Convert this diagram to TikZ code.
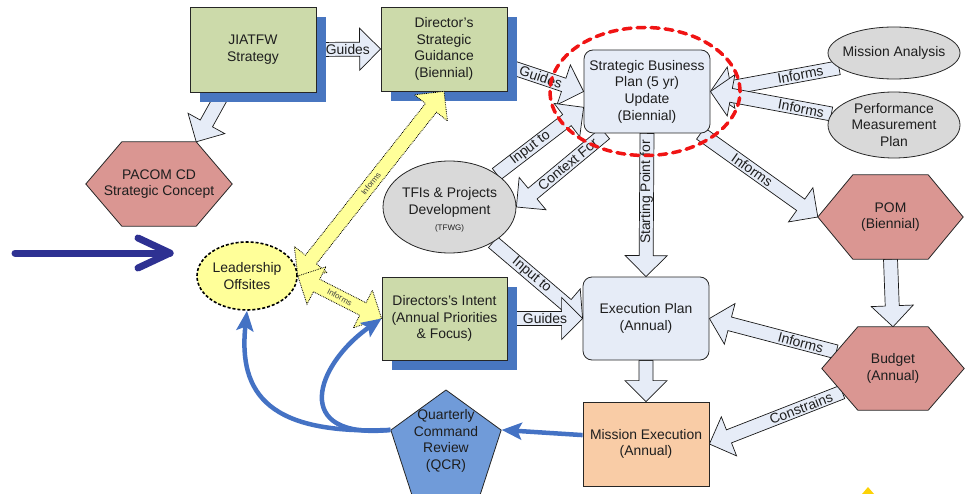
\documentclass[tikz,border=0pt]{standalone}
\usepackage{fontspec}
\setmainfont{Liberation Sans}
\usetikzlibrary{calc,shapes.geometric,shadows,arrows.meta}
\pgfdeclarelayer{arrowlayer}
\pgfdeclarelayer{hexlayer}
\pgfsetlayers{arrowlayer,hexlayer,main}
\definecolor{textc}{RGB}{30,30,30}
\definecolor{boxgreen}{RGB}{204,218,170}
\definecolor{shadowblue}{RGB}{72,118,192}
\definecolor{lightbox}{RGB}{230,236,247}
\definecolor{grayell}{RGB}{217,217,217}
\definecolor{hexred}{RGB}{218,150,146}
\definecolor{peach}{RGB}{249,204,166}
\definecolor{yellowf}{RGB}{255,255,153}
\definecolor{qcrblue}{RGB}{112,155,217}
\definecolor{lineblue}{RGB}{68,114,196}
\definecolor{navyc}{RGB}{46,49,146}
\definecolor{redd}{RGB}{240,20,20}
\newcommand\BAsw{7pt}
\newcommand\BAhw{21pt}
\newcommand\BAhl{21pt}
% single block arrow from #2 to #3
\newcommand\blockarrow[3][]{%
  \coordinate (bkC) at ($(#3)!\BAhl!(#2)$);
  \filldraw[blockarr,#1] ($(#2)!\BAsw!90:(#3)$) -- ($(bkC)!\BAsw!90:(#3)$) -- ($(bkC)!\BAhw!90:(#3)$) -- (#3)
    -- ($(bkC)!\BAhw!-90:(#3)$) -- ($(bkC)!\BAsw!-90:(#3)$) -- ($(#2)!\BAsw!-90:(#3)$) -- cycle;}
% double block arrow between #2 and #3
\newcommand\dblarrow[3][]{%
  \coordinate (bkC) at ($(#2)!\BAhl!(#3)$);
  \coordinate (bkD) at ($(#3)!\BAhl!(#2)$);
  \filldraw[#1] (#2) -- ($(bkC)!\BAhw!90:(#3)$) -- ($(bkC)!\BAsw!90:(#3)$) -- ($(bkD)!\BAsw!90:(#3)$) -- ($(bkD)!\BAhw!90:(#3)$) -- (#3)
    -- ($(bkD)!\BAhw!-90:(#3)$) -- ($(bkD)!\BAsw!-90:(#3)$) -- ($(bkC)!\BAsw!-90:(#3)$) -- ($(bkC)!\BAhw!-90:(#3)$) -- cycle;}
\begin{document}
\begin{tikzpicture}[x=1pt,y=-1pt,
  txt/.style={align=center, text=textc, font=\fontsize{13.9}{16.7}\selectfont, inner sep=0pt},
  gbox/.style={txt, rectangle, draw=black!85, line width=0.8pt, fill=boxgreen,
     general shadow={fill=shadowblue, shadow xshift=10pt, shadow yshift=-10pt}},
  lbox/.style={txt, rectangle, rounded corners=9pt, draw=black!85, line width=0.8pt, fill=lightbox},
  pbox/.style={txt, rectangle, draw=black!85, line width=0.8pt, fill=peach},
  gell/.style={ellipse, draw=black!85, line width=0.8pt, fill=grayell, inner sep=0pt},
  lell/.style={ellipse, draw=black, line width=1.6pt, dash pattern=on 3pt off 2pt, fill=yellowf, inner sep=0pt},
  hexbox/.style={txt, rectangle, draw=none},
  hexfill/.style={fill=hexred, draw=black!85, line width=0.8pt},
  qcrstyle/.style={regular polygon, regular polygon sides=5, minimum size=116pt, inner sep=0pt,
     fill=qcrblue, draw=black!85, line width=0.8pt},
  blockarr/.style={fill=lightbox, draw=black!90, line width=0.7pt, line join=miter},
  yarr/.style={fill=yellowf, draw=black, line width=0.8pt, densely dotted},
  albl/.style={txt},
  ylbl/.style={text=black!75, font=\fontsize{8}{9}\selectfont, inner sep=0pt},
  bluearr/.style={draw=lineblue, line width=4.5pt, -{Stealth[length=20pt,width=17pt,inset=4pt]}}
]
\useasboundingbox (0,0) rectangle (965,494);

% ---------------- nodes ----------------
\node[gbox, minimum width=126pt, minimum height=85pt] (jia) at (253,49.5) {JIATFW\\Strategy};
\node[gbox, minimum width=126pt, minimum height=84pt] (dsg) at (444,49) {Director’s\\Strategic\\Guidance\\(Biennial)};
\node[lbox, minimum width=126pt, minimum height=83pt] (sbp) at (647,91.5) {Strategic Business\\Plan (5 yr)\\Update\\(Biennial)};
\node[gell, minimum width=132pt, minimum height=52pt] (ma) at (894,53) {};
\node[txt] (maT) at (ma) {Mission Analysis};
\node[gell, minimum width=132pt, minimum height=66pt] (pmp) at (894,125) {};
\node[txt] (pmpT) at (pmp) {Performance\\Measurement\\Plan};
\node[hexbox, minimum width=145pt, minimum height=84pt] (pom) at (890.5,217) {POM\\(Biennial)};
\node[hexbox, minimum width=142pt, minimum height=83pt] (bud) at (893,368.5) {Budget\\(Annual)};
\node[lbox, minimum width=126pt, minimum height=83pt] (exe) at (646,318.5) {Execution Plan\\(Annual)};
\node[pbox, minimum width=126pt, minimum height=84pt] (mex) at (646,444) {Mission Execution\\(Annual)};
\node[gbox, minimum width=125pt, minimum height=83pt] (din) at (444.5,318.5) {Directors’s Intent\\(Annual Priorities\\\& Focus)};
\node[gell, minimum width=133pt, minimum height=92pt] (tfi) at (449.5,207) {};
\node[txt] (tfiT) at ($(tfi)+(0,3)$) {TFIs \& Projects\\Development\\{\fontsize{8}{10}\selectfont (TFWG)}};
\node[lell, minimum width=100pt, minimum height=68pt] (lo) at (247,276) {};
\node[txt] (loT) at (lo) {Leadership\\Offsites};
\node[hexbox, minimum width=146pt, minimum height=84pt] (pac) at (159,184) {PACOM CD\\Strategic Concept};
\node[qcrstyle] (qcr) at (446,448) {};
\node[txt] (qcrT) at ($(qcr.center)+(0,-7)$) {Quarterly\\Command\\Review\\(QCR)};

% hexagons
\begin{pgfonlayer}{hexlayer}
\foreach \h/\d in {pac/36,pom/35,bud/36}{
  \filldraw[hexfill] (\h.west) -- ($(\h.north west)+(\d,0)$) -- ($(\h.north east)+(-\d,0)$) -- (\h.east)
    -- ($(\h.south east)+(-\d,0)$) -- ($(\h.south west)+(\d,0)$) -- cycle;}
\end{pgfonlayer}

% ---------------- block arrows ----------------
\begin{pgfonlayer}{arrowlayer}
\coordinate (jiaOut) at ($(jia.south west)+(34,0)$);
\coordinate (pacIn) at ($(pac.north east)+(-36,0)$);
\coordinate (budI) at ($(bud.west)!0.4!($(bud.north west)+(36,0)$)$);
\coordinate (budC) at ($(bud.west)!0.566!($(bud.south west)+(36,0)$)$);

\blockarrow{jia.east}{dsg.west}
\path (jia.east) -- (dsg.west) node[albl, pos=0.49, sloped] {Guides};
\blockarrow{jiaOut}{pacIn}
\blockarrow{dsg.-15}{sbp.west}
\path (dsg.-15) -- (sbp.west) node[albl, pos=0.44, sloped] {Guides};
\blockarrow{ma.-165}{sbp.east}
\path (ma.-165) -- (sbp.east) node[albl, pos=0.3, sloped] {Informs};
\blockarrow{pmp.170}{sbp.east}
\path (pmp.170) -- (sbp.east) node[albl, pos=0.25, sloped] {Informs};
\blockarrow{tfi.35}{sbp.194}
\path (tfi.35) -- (sbp.194) node[albl, pos=0.39, sloped] {Input to};
\blockarrow{sbp.-135}{tfi.east}
\path (sbp.-135) -- (tfi.east) node[albl, pos=0.42, sloped] {Context For};
\blockarrow{sbp.south}{exe.north}
\path (sbp.south) -- (exe.north) node[albl, pos=0.41, rotate=90] {Starting Point for};
\blockarrow{sbp.-38}{pom.west}
\path (sbp.-38) -- (pom.west) node[albl, pos=0.44, sloped] {Informs};
\blockarrow{tfi.-39}{exe.west}
\path (tfi.-39) -- (exe.west) node[albl, pos=0.43, sloped] {Input to};
\blockarrow{din.east}{exe.west}
\path (din.east) -- (exe.west) node[albl, pos=0.5, sloped] {Guides};
\blockarrow{exe.south}{mex.north}
\blockarrow{pom.south}{bud.north}
\blockarrow{budI}{exe.east}
\path (budI) -- (exe.east) node[albl, pos=0.28, sloped] {Informs};
\blockarrow{budC}{mex.east}
\path (budC) -- (mex.east) node[albl, pos=0.31, sloped] {Constrains};
\end{pgfonlayer}

% ---------------- yellow double arrows ----------------
\dblarrow[yarr]{lo.east}{dsg.south}
\path (lo.east) -- (dsg.south) node[ylbl, pos=0.5, sloped] {Informs};
\dblarrow[yarr]{lo.east}{din.west}
\path (lo.east) -- (din.west) node[ylbl, pos=0.5, sloped] {Informs};

% ---------------- blue feedback arrows ----------------
\draw[bluearr] (mex.172) -- (qcr.corner 5);
\draw[bluearr] (qcr.corner 2) .. controls (270,435) and (238,395) .. (lo.south);
\draw[bluearr] (qcr.corner 2) .. controls (290,440) and (315,365) .. (din.west);

% ---------------- navy pointer arrow ----------------
\coordinate (navyT) at (15,253);
\coordinate (navyH) at (170,253);
\draw[navyc, line width=7pt, line cap=round] (navyT) -- (navyH);
\draw[navyc, line width=7pt, line cap=round, line join=round] ($(navyH)+(-32,-15)$) -- (navyH) -- ($(navyH)+(-32,15)$);

% small yellow mark at the bottom
\fill[yellow!70!orange] (862,494) -- (868,487) -- (874,494) -- cycle;

% ---------------- red dashed highlight ----------------
\draw[redd, line width=3.5pt, dash pattern=on 8pt off 6pt, line cap=round] ($(sbp.center)+(-2,0)$) ellipse [x radius=95pt, y radius=64pt];
\end{tikzpicture}
\end{document}
